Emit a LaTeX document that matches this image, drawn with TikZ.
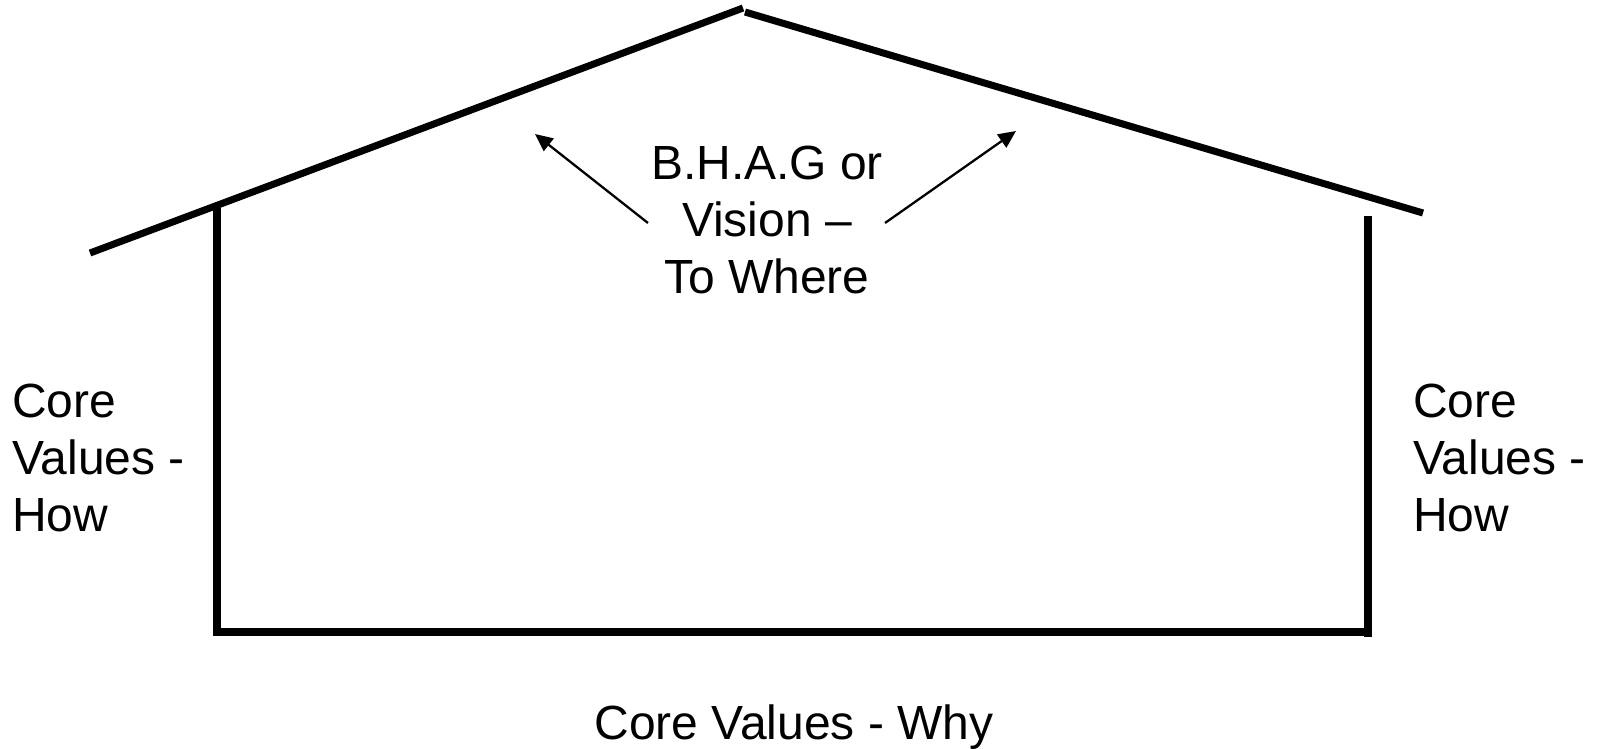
\documentclass[tikz,border=0pt]{standalone}
\usepackage{fontspec}
\setmainfont{Liberation Sans}
\usetikzlibrary{arrows.meta}

\begin{document}
\begin{tikzpicture}[x=0.02cm, y=-0.02cm,
    wall/.style={line width=4pt},
    pointer/.style={line width=1.3pt, -{Triangle[length=10pt, width=9pt]}},
    label/.style={font=\fontsize{27.3}{32.3}\selectfont, inner sep=0pt}]
            \useasboundingbox (0,0) rectangle (1597,748);

            % Roof and walls
            \coordinate (eaveL) at (90,253);
            \coordinate (peakL) at (743,8);
            \coordinate (peakR) at (745,12);
            \coordinate (eaveR) at (1423,213);
            \draw[wall] (eaveL) -- (peakL);
            \draw[wall] (peakR) -- (eaveR);
            \draw[wall] (217,208) -- (217,632) -- (1366,632);
            \draw[wall] (1368,216) -- (1368,637);

            % Labels
            \node[label, align=center] (vision) at (767,220) {B.H.A.G or\\Vision --\\To Where};
            \node[label, align=left, anchor=west] (howL) at (12,458) {Core\\Values -\\How};
            \node[label, align=left, anchor=west] (howR) at (1413,458) {Core\\Values -\\How};
            \node[label] (why) at (794,727) {Core Values - Why};

            % Arrows
            \coordinate (tailL) at (648,223);
            \coordinate (tipL) at (535,134);
            \coordinate (tailR) at (885,223);
            \coordinate (tipR) at (1016,131);
            \draw[pointer] (tailL) -- (tipL);
            \draw[pointer] (tailR) -- (tipR);
        \end{tikzpicture}
\end{document}
